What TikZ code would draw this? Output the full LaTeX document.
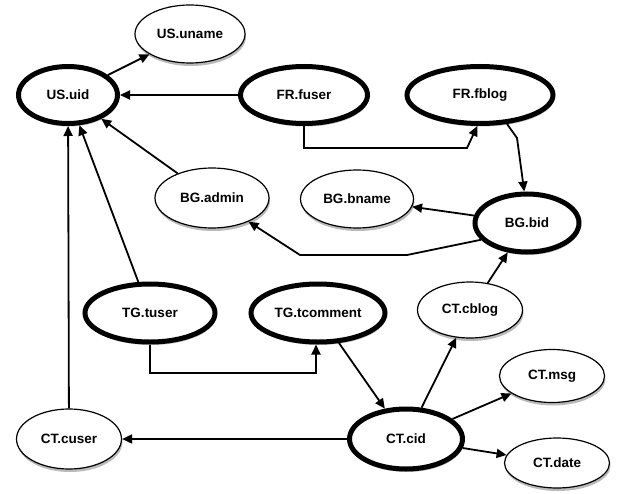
\documentclass[tikz,border=0pt]{standalone}
\usepackage{fontspec}
\setmainfont{Liberation Sans}
\usetikzlibrary{shapes.geometric,arrows.meta,shadows}

\tikzset{
  attr/.style={ellipse, draw, line width=1.2pt, fill=white, inner sep=0pt,
    font=\bfseries\fontsize{13.5}{15}\selectfont,
    drop shadow={shadow xshift=1pt, shadow yshift=-3pt, opacity=0.45, fill=black!60}},
  keyattr/.style={attr, line width=5pt},
  link/.style={-{Triangle[length=10pt,width=9pt]}, line width=1.8pt}
}

\begin{document}
\begin{tikzpicture}[x=1pt, y=-1pt]
    \useasboundingbox (0,0) rectangle (617,494);

    % Attributes
    \node[attr, minimum width=110, minimum height=58] (uname) at (190,34) {US.uname};
    \node[keyattr, minimum width=99, minimum height=57] (uid) at (68,95) {US.uid};
    \node[keyattr, minimum width=127, minimum height=57] (fuser) at (304,95) {FR.fuser};
    \node[keyattr, minimum width=146, minimum height=57] (fblog) at (480,95) {FR.fblog};
    \node[attr, minimum width=114, minimum height=60] (admin) at (212,198) {BG.admin};
    \node[attr, minimum width=113, minimum height=58] (bname) at (357,199) {BG.bname};
    \node[keyattr, minimum width=104, minimum height=58] (bid) at (527,223) {BG.bid};
    \node[keyattr, minimum width=130, minimum height=58] (tuser) at (150,313) {TG.tuser};
    \node[keyattr, minimum width=134, minimum height=58] (tcomment) at (318,313) {TG.tcomment};
    \node[attr, minimum width=105, minimum height=56] (cblog) at (470,310) {CT.cblog};
    \node[attr, minimum width=105, minimum height=53] (msg) at (552,376) {CT.msg};
    \node[keyattr, minimum width=113, minimum height=60] (cid) at (406,439) {CT.cid};
    \node[attr, minimum width=105, minimum height=50] (date) at (557,463) {CT.date};
    \node[attr, minimum width=105, minimum height=60] (cuser) at (69,439) {CT.cuser};

    % Bend points
    \coordinate (fb1) at (467,148);
    \coordinate (fb2) at (517,138);
    \coordinate (ba1) at (407,255);
    \coordinate (ba2) at (300,255);
    \coordinate (tc1) at (316,373);

    % Links
    \draw[link] (uid) -- (uname);
    \draw[link] (fuser) -- (uid);
    \draw[link] (admin) -- (uid);
    \draw[link] (tuser) -- (uid);
    \draw[link] (cuser) -- (uid);
    \draw[link] (fuser.south) |- (fb1) -- (fblog.265);
    \draw[link] (fblog.-47) -- (fb2) -- (bid.95);
    \draw[link] (bid) -- (bname);
    \draw[link] (bid.200) -- (ba1) -- (ba2) -- (admin);
    \draw[link] (tuser.south) |- (tc1) -- (tc1 |- tcomment.south);
    \draw[link] (tcomment) -- (cid);
    \draw[link] (cid) -- (cblog);
    \draw[link] (cblog) -- (bid);
    \draw[link] (cid) -- (msg);
    \draw[link] (cid) -- (date);
    \draw[link] (cid) -- (cuser);

\end{tikzpicture}
\end{document}
